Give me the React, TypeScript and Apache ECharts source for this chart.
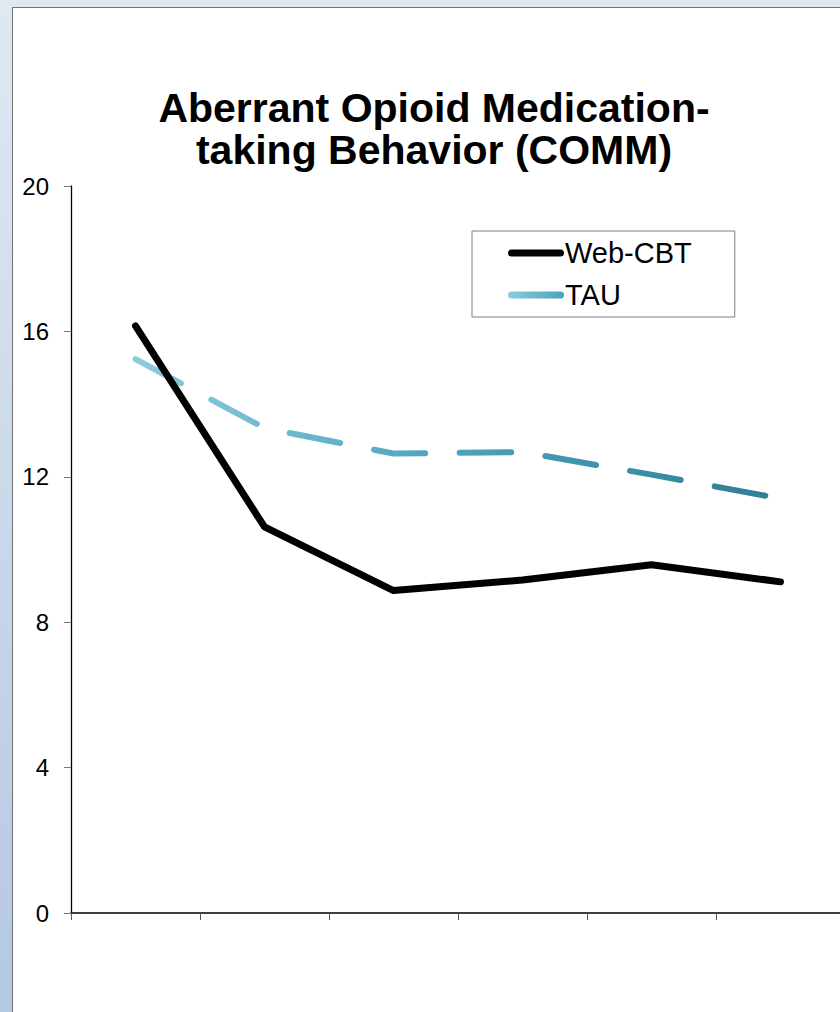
import React, { useEffect, useRef } from "react";
import * as echarts from "echarts";

// Assessment points along the x axis (labels are not shown on the axis)
const timePoints = ["T1", "T2", "T3", "T4", "T5", "T6"];

// Mean COMM scores per group
const webCbtScores = [16.15, 10.62, 8.87, 9.16, 9.58, 9.11];
const tauScores = [15.24, 13.34, 12.64, 12.68, 12.06, 11.4];

// Y axis range and step
const yMin = 0;
const yMax = 20;
const yStep = 4;

const chartTitle = "Aberrant Opioid Medication-\ntaking Behavior (COMM)";
const seriesNames = ["Web-CBT", "TAU"];

const FONT = "Arial, 'Liberation Sans', Helvetica, sans-serif";

// Rounded bar used as the legend swatch
const PILL_ICON = "path://M3.5 0H52.5A3.5 3.5 0 0 1 52.5 7H3.5A3.5 3.5 0 0 1 3.5 0Z";

// The plot runs a little past the right edge of the window and is cut off there
const CHART_W = 845;
const CHART_H = 1012;

export default function App() {
  const ref = useRef<HTMLDivElement>(null);

  useEffect(() => {
    document.body.style.margin = "0";
    document.body.style.overflow = "hidden";
    document.documentElement.style.overflow = "hidden";
    if (!ref.current) return;
    const chart = echarts.init(ref.current, null, { renderer: "svg" });

    const tauGradient = new echarts.graphic.LinearGradient(0, 0, 1, 0, [
      { offset: 0, color: "#8ccbdc" },
      { offset: 0.5, color: "#4aa3bd" },
      { offset: 1, color: "#307d93" },
    ]);
    const tauLegendGradient = new echarts.graphic.LinearGradient(0, 0, 1, 0, [
      { offset: 0, color: "#8ccbdc" },
      { offset: 1, color: "#4aa3bd" },
    ]);

    chart.setOption({
      animation: false,
      graphic: [
        {
          type: "rect",
          z: -20,
          shape: { x: 0, y: 0, width: CHART_W, height: CHART_H },
          style: {
            fill: new echarts.graphic.LinearGradient(0, 0, 0, 1, [
              { offset: 0, color: "#e0e8f2" },
              { offset: 1, color: "#b4c8e2" },
            ]),
          },
          silent: true,
        },
        {
          type: "rect",
          z: -19,
          shape: { x: 12.5, y: 7.5, width: CHART_W, height: CHART_H + 10 },
          style: { fill: "#ffffff", stroke: "#737373", lineWidth: 1 },
          silent: true,
        },
      ],
      title: {
        text: chartTitle,
        left: 429,
        top: 82,
        textAlign: "center",
        textStyle: {
          fontFamily: FONT,
          fontSize: 41,
          fontWeight: "bold",
          color: "#000",
          lineHeight: 42,
        },
      },
      legend: {
        orient: "vertical",
        left: 472,
        top: 231,
        padding: [7, 43, 7, 36],
        backgroundColor: "#fff",
        borderColor: "#7f7f7f",
        borderWidth: 1,
        borderRadius: 0,
        itemWidth: 56,
        itemHeight: 7,
        itemGap: 12,
        itemStyle: { borderWidth: 0 },
        data: [
          { name: seriesNames[0], icon: PILL_ICON, itemStyle: { color: "#000" } },
          { name: seriesNames[1], icon: PILL_ICON, itemStyle: { color: tauLegendGradient } },
        ],
        textStyle: {
          fontFamily: FONT,
          fontSize: 29,
          color: "#000",
          lineHeight: 30,
          padding: [0, 0, 0, -4],
        },
      },
      grid: {
        left: 71,
        top: 186,
        right: 0,
        height: 727,
        containLabel: false,
      },
      xAxis: {
        type: "category",
        data: timePoints,
        boundaryGap: true,
        axisLine: { show: true, lineStyle: { color: "#000", width: 1.5 } },
        axisTick: {
          show: true,
          alignWithLabel: false,
          length: 7,
          lineStyle: { color: "#555", width: 1 },
        },
        axisLabel: { show: false },
        splitLine: { show: false },
      },
      yAxis: {
        type: "value",
        min: yMin,
        max: yMax,
        interval: yStep,
        axisLine: { show: true, lineStyle: { color: "#000", width: 1.3 } },
        axisTick: {
          show: true,
          length: 7,
          lineStyle: { color: "#777", width: 1 },
        },
        axisLabel: {
          fontFamily: FONT,
          fontSize: 24,
          color: "#000",
          margin: 22,
        },
        splitLine: { show: false },
      },
      series: [
        {
          name: seriesNames[0],
          type: "line",
          data: webCbtScores,
          symbol: "none",
          z: 3,
          color: "#000",
          lineStyle: { color: "#000", width: 7, cap: "round", join: "round" },
        },
        {
          name: seriesNames[1],
          type: "line",
          data: tauScores,
          symbol: "none",
          z: 2,
          color: tauGradient,
          lineStyle: {
            color: tauGradient,
            width: 6,
            type: [51.5, 34.5],
            cap: "round",
            join: "round",
          },
        },
      ],
    });

    return () => chart.dispose();
  }, []);

  return <div ref={ref} style={{ width: CHART_W, height: CHART_H }} />;
}
